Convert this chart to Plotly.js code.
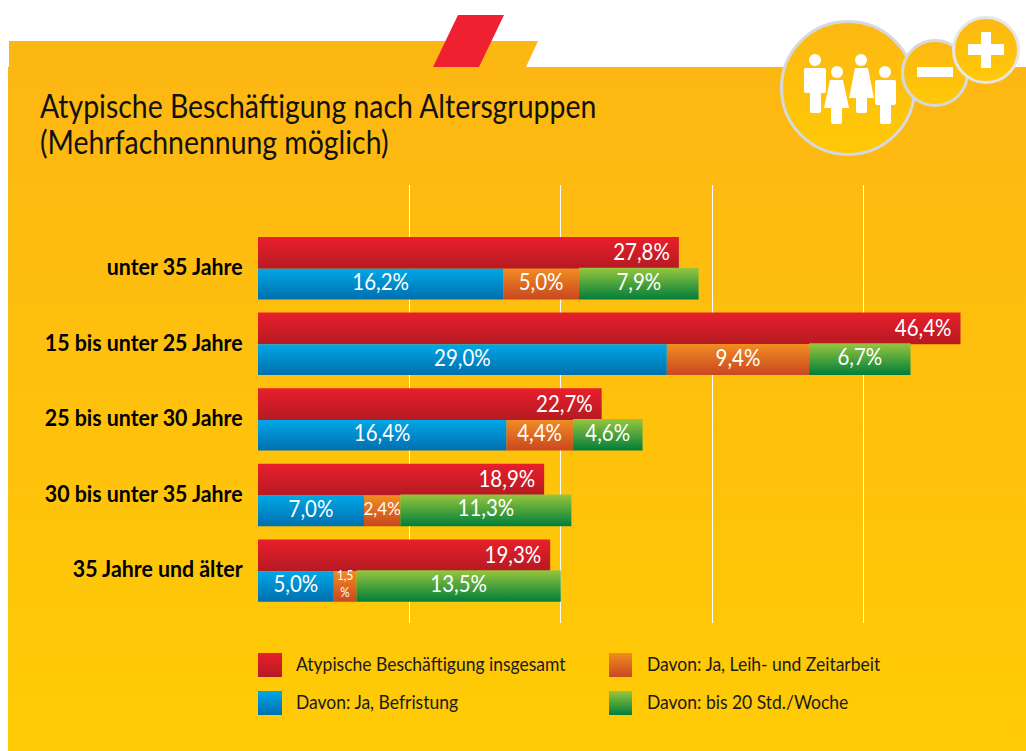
<!DOCTYPE html>
<html><head><meta charset="utf-8">
<script src="https://cdn.plot.ly/plotly-3.0.1.min.js"></script>
<style>
html,body{margin:0;padding:0;background:#fff;width:1026px;height:751px;overflow:hidden}
#bg,#chart{position:absolute;left:0;top:0;width:1026px;height:751px}
</style></head><body>
<svg id="bg" width="1026" height="751" xmlns="http://www.w3.org/2000/svg">
<defs>
<linearGradient id="panel" x1="0" y1="0" x2="0" y2="1"><stop offset="0" stop-color="#FDB713"/><stop offset="1" stop-color="#FFCB05"/></linearGradient>
<linearGradient id="disc" x1="0" y1="0" x2="0" y2="1"><stop offset="0" stop-color="#FDB813"/><stop offset="1" stop-color="#FFC907"/></linearGradient>
</defs>
<polygon points="9,41 538,41 526,67 9,67" fill="#FDB713"/>
<rect x="8" y="67" width="1018" height="684" fill="url(#panel)"/>
<polygon points="458,15 504,15 479,67 433,67" fill="#EF2030"/>
<circle cx="848" cy="88" r="66.5" fill="url(#disc)" stroke="#D5D8DC" stroke-width="3"/>
<circle cx="935" cy="73" r="32.5" fill="url(#disc)" stroke="#D5D8DC" stroke-width="3"/>
<circle cx="986" cy="50" r="32.5" fill="url(#disc)" stroke="#E4E6E8" stroke-width="3"/>
<g fill="#fff">
<rect x="917" y="67" width="36" height="10"/>
<rect x="968" y="44" width="36" height="11"/><rect x="981" y="32" width="10" height="36"/>
<ellipse cx="815" cy="60" rx="6" ry="6"/><rect x="804" y="68" width="22" height="25" rx="2"/><rect x="810" y="90" width="11" height="23" rx="2"/>
<ellipse cx="837" cy="72" rx="6" ry="6"/><path d="M830,80H843L849,108H824Z"/><rect x="831" y="105" width="11" height="19" rx="2"/>
<ellipse cx="861" cy="60" rx="6" ry="6"/><path d="M855,68H868L874,98H849Z"/><rect x="856" y="95" width="11" height="18" rx="2"/>
<ellipse cx="885" cy="72" rx="6" ry="6"/><rect x="875" y="80" width="21" height="25" rx="2"/><rect x="880" y="102" width="11" height="22" rx="2"/>
</g>
</svg>
<div id="chart"></div>
<script>
const categories = ["unter 35 Jahre","15 bis unter 25 Jahre","25 bis unter 30 Jahre","30 bis unter 35 Jahre","35 Jahre und älter"];
const seriesNames = ["Atypische Beschäftigung insgesamt","Davon: Ja, Leih- und Zeitarbeit","Davon: Ja, Befristung","Davon: bis 20 Std./Woche"];
const insgesamt = [27.8,46.4,22.7,18.9,19.3];
const befristung = [16.2,27.0,16.4,7.0,5.0];   // bar length as drawn in the picture
const leiharbeit = [5.0,9.4,4.4,2.4,1.5];
const stunden = [7.9,6.7,4.6,11.3,13.5];
const insgesamtLabels = ["27,8%","46,4%","22,7%","18,9%","19,3%"];
const befristungLabels = ["16,2%","29,0%","16,4%","7,0%","5,0%"];
const leiharbeitLabels = ["5,0%","9,4%","4,4%","2,4%","1,5<br>%"];
const stundenLabels = ["7,9%","6,7%","4,6%","11,3%","13,5%"];
const leiharbeitFontSizes = [23,23,23,18,13];
const FONT = 'Lato,sans-serif';
const gradients = {
  red:["#E81F2C","#B51A22"], blue:["#00A7E6","#006FAF"], orange:["#F18C22","#C9471F"], green:["#97C63E","#007E3A"]
};
const baseLeih = befristung;
const baseStd = befristung.map((v,i)=>v+leiharbeit[i]);
function bar(name,x,base,text,color,off,w,size,legendrank){
  return {type:"bar",orientation:"h",name,y:categories,x,base,text,textposition:"inside",
    insidetextanchor:"middle",constraintext:"none",cliponaxis:false,
    textfont:{family:FONT,color:"#fff",size},
    offset:off,width:w,marker:{color,line:{width:0}},hoverinfo:"skip",legendrank};
}
const traces = [
  bar(seriesNames[0],insgesamt,undefined,insgesamtLabels,"#D01D27",-0.42,0.42,23,1),
  bar(seriesNames[1],leiharbeit,baseLeih,leiharbeitLabels,"#DD6A20",0,0.405,leiharbeitFontSizes,2),
  bar(seriesNames[2],befristung,undefined,befristungLabels,"#008BCB",0,0.405,23,3),
  bar(seriesNames[3],stunden,baseStd,stundenLabels,"#4CA23C",-0.013,0.418,23,4)
];
const layout = {
  width:1026,height:751,paper_bgcolor:"rgba(0,0,0,0)",plot_bgcolor:"rgba(0,0,0,0)",
  margin:{l:258,r:11,t:185,b:128,pad:0},barmode:"overlay",
  title:{text:"Atypische Beschäftigung nach Altersgruppen<br>(Mehrfachnennung möglich)",x:40/1026,xanchor:"left",y:1-118/751,yanchor:"alphabetic",
    font:{family:FONT,size:32,color:"#111"}},
  xaxis:{range:[0,50],tickvals:[10,20,30,40],showticklabels:false,ticks:"",showgrid:true,gridcolor:"#fff",gridwidth:1.2,zeroline:false,showline:false},
  yaxis:{type:"category",categoryorder:"array",categoryarray:categories,range:[4.686,-1.108],showgrid:false,zeroline:false,showline:false,
    ticks:"outside",ticklen:10,tickcolor:"rgba(0,0,0,0)",tickfont:{family:FONT,size:22,color:"#000",weight:700}},
  showlegend:true,
  legend:{orientation:"h",x:250/1026,xanchor:"left",y:1-640/751,yref:"container",yanchor:"top",entrywidth:351,entrywidthmode:"pixels",
    font:{family:FONT,size:20,color:"#1a1a1a"},bgcolor:"rgba(0,0,0,0)",itemclick:false,itemdoubleclick:false}
};
function squeeze(el,s,dx,dy){
  const x=parseFloat(el.getAttribute("x"))||0;
  const t=el.getAttribute("transform")||"";
  el.setAttribute("transform","translate("+(dx||0)+" "+(dy||0)+") "+t+" translate("+x+" 0) scale("+s+" 1) translate("+(-x)+" 0)");
}
Plotly.newPlot("chart",traces,layout,{staticPlot:true,displayModeBar:false}).then(gd=>{
  const svg = gd.querySelector("svg.main-svg");
  const NS = "http://www.w3.org/2000/svg";
  const defs = document.createElementNS(NS,"defs");
  Object.entries(gradients).forEach(([k,c])=>{
    const g=document.createElementNS(NS,"linearGradient");
    g.id="gr-"+k;g.setAttribute("x1","0");g.setAttribute("y1","0");g.setAttribute("x2","0");g.setAttribute("y2","1");
    [[0,c[0]],[1,c[1]]].forEach(([o,col])=>{const s=document.createElementNS(NS,"stop");s.setAttribute("offset",o);s.setAttribute("stop-color",col);g.appendChild(s);});
    defs.appendChild(g);
  });
  svg.insertBefore(defs,svg.firstChild);
  const keys=["red","orange","blue","green"];
  gd.querySelectorAll(".barlayer .trace.bars").forEach((tr,i)=>{
    tr.querySelectorAll(".point").forEach((pt,j)=>{
      const p=pt.querySelector("path");
      p.style.fill="url(#gr-"+keys[i]+")";p.style.fillOpacity=1;
      const t=pt.querySelector("text");
      if(!t) return;
      const small=i===1&&j>=3;
      squeeze(t,small?(j===3?0.95:0.9):0.89,0,i===0?-1.5:(small?-2.5:-3));
      if(i===0){
        const dx=p.getBoundingClientRect().right-9-t.getBoundingClientRect().right;
        squeeze(t,1,dx,0);
      }
      t.style.fontWeight=400;
    });
  });
  // condensed lettering like the reference's typeface
  const title=gd.querySelector(".gtitle");
  if(title){
    squeeze(title,0.888,0,0);
    const lines=title.querySelectorAll("tspan.line");
    if(lines[1]) lines[1].setAttribute("dy","36");
  }
  gd.querySelectorAll(".ytick text").forEach(t=>squeeze(t,0.97,0,-1.5));
  // legend: two columns as in the picture, larger gradient swatches
  const sb=gd.querySelector(".legend .scrollbox");
  if(sb) sb.removeAttribute("clip-path");
  const rows=[[258,665],[609,665],[258,703],[609,703]];
  gd.querySelectorAll(".legend .traces").forEach((tr,i)=>{
    const lg=tr.closest(".legend").getAttribute("transform").match(/translate\(([-\d.]+)[ ,]+([-\d.]+)/);
    tr.setAttribute("transform","translate("+(rows[i][0]-(+lg[1]))+","+(rows[i][1]-(+lg[2]))+")");
    tr.querySelectorAll(".legendpoints path").forEach(q=>{
      q.setAttribute("d","M0,-12H"+(i%2?23:24)+"V12H0Z");
      q.removeAttribute("transform");
      q.style.fill="url(#gr-"+keys[i]+")";
      q.style.strokeWidth=0;
      q.parentNode.setAttribute("transform","translate(0,0)");
    });
    const t=tr.querySelector("text.legendtext");
    t.setAttribute("x",38);
    squeeze(t,0.875,0,-2);
  });
});
</script>
</body></html>
